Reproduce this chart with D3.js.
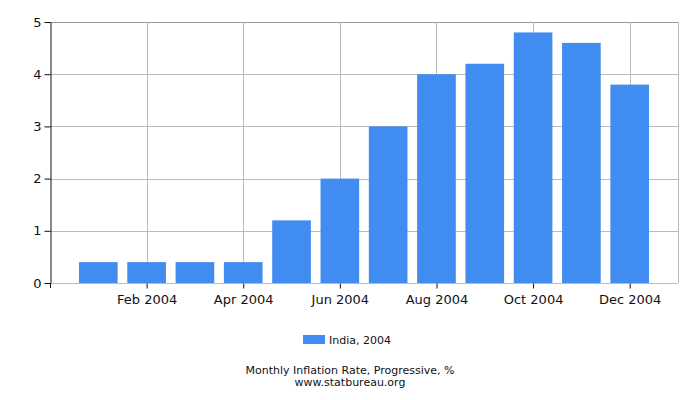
<!DOCTYPE html>
<html>
<head>
<meta charset="utf-8">
<script src="https://cdn.jsdelivr.net/npm/d3@7"></script>
<style>
  body { margin: 0; background: #fff; }
  text { font-family: "DejaVu Sans", sans-serif; }
</style>
</head>
<body>
<div id="chart"></div>
<script>
// chart data
var months = ["Jan 2004", "Feb 2004", "Mar 2004", "Apr 2004", "May 2004", "Jun 2004",
              "Jul 2004", "Aug 2004", "Sep 2004", "Oct 2004", "Nov 2004", "Dec 2004"];
var values = [0.4, 0.4, 0.4, 0.4, 1.2, 2.0, 3.0, 4.0, 4.2, 4.8, 4.6, 3.8];
var yTicks = [0, 1, 2, 3, 4, 5];
var labelledMonths = ["Feb 2004", "Apr 2004", "Jun 2004", "Aug 2004", "Oct 2004", "Dec 2004"];
var seriesName = "India, 2004";
var titleLines = ["Monthly Inflation Rate, Progressive, %", "www.statbureau.org"];

var width = 700, height = 400;
var margin = {top: 22, right: 22, bottom: 117, left: 50};
var barColor = "#418cf0";

var svg = d3.select("#chart").append("svg")
  .attr("width", width)
  .attr("height", height);

var x = d3.scalePoint()
  .domain(months)
  .range([margin.left, width - margin.right])
  .padding(1);

var y = d3.scaleLinear()
  .domain([0, 5])
  .range([height - margin.bottom, margin.top]);

var barW = x.step() * 0.8;

// horizontal grid
svg.append("g")
  .selectAll("line")
  .data(yTicks.slice(1))
  .join("line")
    .attr("x1", margin.left)
    .attr("x2", width - margin.right)
    .attr("y1", d => Math.round(y(d)) + 0.5)
    .attr("y2", d => Math.round(y(d)) + 0.5)
    .attr("stroke", d => d == 5 ? "#999" : "#bbb");

// vertical grid
svg.append("g")
  .selectAll("line")
  .data(labelledMonths)
  .join("line")
    .attr("x1", d => Math.round(x(d)) + 0.5)
    .attr("x2", d => Math.round(x(d)) + 0.5)
    .attr("y1", y(5))
    .attr("y2", y(0))
    .attr("stroke", "#bbb");

// right frame
svg.append("line")
  .attr("x1", width - margin.right + 0.5)
  .attr("x2", width - margin.right + 0.5)
  .attr("y1", y(5))
  .attr("y2", y(0))
  .attr("stroke", "#bbb");

// bars
svg.append("g")
  .selectAll("rect")
  .data(values)
  .join("rect")
    .attr("x", (d, i) => x(months[i]) - barW / 2)
    .attr("y", d => y(d))
    .attr("width", barW)
    .attr("height", d => y(0) - y(d))
    .attr("fill", barColor);

// bottom baseline
svg.append("line")
  .attr("x1", margin.left)
  .attr("x2", width - margin.right)
  .attr("y1", Math.round(y(0)) + 0.5)
  .attr("y2", Math.round(y(0)) + 0.5)
  .attr("stroke", "#bbb");

// y axis
var yAxis = svg.append("g")
  .attr("transform", `translate(${margin.left + 0.5},0)`)
  .call(d3.axisLeft(y).tickValues(yTicks).tickFormat(d3.format("d"))
    .tickSize(6).tickPadding(3).tickSizeOuter(0));
yAxis.selectAll("text").attr("font-size", 13).attr("fill", "#111")
  .attr("font-family", "DejaVu Sans");
yAxis.selectAll("line").attr("stroke", "#111");
yAxis.select(".domain").attr("stroke", "#111");

// x axis
var xAxis = svg.append("g")
  .attr("transform", `translate(0,${Math.round(y(0)) + 0.5})`)
  .call(d3.axisBottom(x).tickValues(labelledMonths).tickSize(5).tickPadding(6).tickSizeOuter(0));
xAxis.select(".domain").remove();
xAxis.selectAll("text").attr("font-size", 13).attr("fill", "#111")
  .attr("font-family", "DejaVu Sans");
xAxis.selectAll("line").attr("stroke", "#111");

// corner tick at left end of x axis
svg.append("line")
  .attr("x1", margin.left + 0.5)
  .attr("x2", margin.left + 0.5)
  .attr("y1", y(0))
  .attr("y2", y(0) + 5)
  .attr("stroke", "#111");

// legend
var legend = svg.append("g").attr("transform", "translate(303,335)");
legend.append("rect")
  .attr("width", 22)
  .attr("height", 9)
  .attr("fill", barColor);
legend.append("text")
  .attr("x", 26)
  .attr("y", 9)
  .attr("font-size", 11)
  .attr("fill", "#111")
  .text(seriesName);

// title
svg.append("g")
  .selectAll("text")
  .data(titleLines)
  .join("text")
    .attr("x", 350)
    .attr("y", (d, i) => 374 + i * 12)
    .attr("text-anchor", "middle")
    .attr("font-size", 11)
    .attr("fill", "#111")
    .text(d => d);
</script>
</body>
</html>
